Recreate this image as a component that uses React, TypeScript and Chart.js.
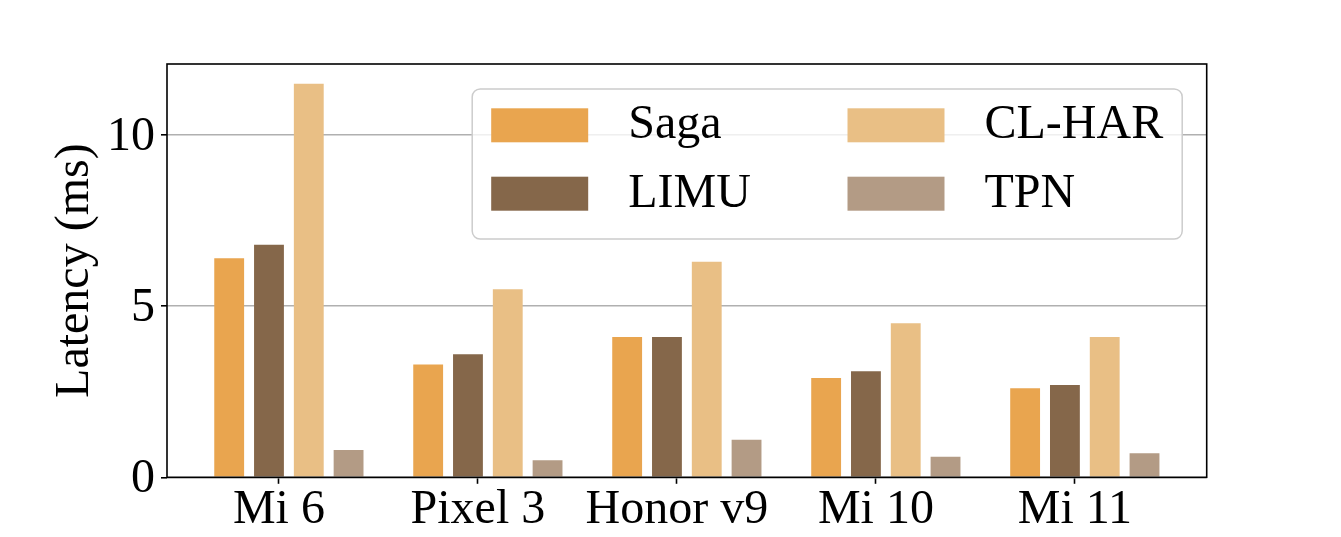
import { useEffect, useRef } from "react";
import { Chart, registerables } from "chart.js";

Chart.register(...registerables);

const DEVICES = ["Mi 6", "Pixel 3", "Honor v9", "Mi 10", "Mi 11"];
const SAGA = [6.4, 3.3, 4.1, 2.9, 2.6];
const LIMU = [6.8, 3.6, 4.1, 3.1, 2.7];
const CL_HAR = [11.5, 5.5, 6.3, 4.5, 4.1];
const TPN = [0.8, 0.5, 1.1, 0.6, 0.7];
const Y_TICKS = [0, 5, 10];

const FONT = "'Liberation Serif', 'Times New Roman', serif";

// label, values, colour, offset from the device tick (in category units)
const SERIES = [
  { label: "Saga", values: SAGA, color: "#e9a54f", shift: -0.25 },
  { label: "LIMU", values: LIMU, color: "#85674a", shift: -0.05 },
  { label: "CL-HAR", values: CL_HAR, color: "#e9bf85", shift: 0.15 },
  { label: "TPN", values: TPN, color: "#b39b85", shift: 0.35 },
];

const framePlugin = {
  id: "frame",
  afterDatasetsDraw(chart: any) {
    const { ctx, chartArea: a } = chart;
    ctx.save();
    ctx.strokeStyle = "#000";
    ctx.lineWidth = 1.6;
    ctx.strokeRect(a.left, a.top, a.right - a.left, a.bottom - a.top);
    ctx.restore();
  },
};

const legendPlugin = {
  id: "insideLegend",
  afterDraw(chart: any) {
    const { ctx, chartArea: a } = chart;
    const w = 710;
    const h = 150;
    const x = a.right - 24.5 - w;
    const y = a.top + 25;
    ctx.save();
    ctx.beginPath();
    ctx.roundRect(x, y, w, h, 8);
    ctx.fillStyle = "rgba(255,255,255,0.8)";
    ctx.fill();
    ctx.strokeStyle = "#cccccc";
    ctx.lineWidth = 1.5;
    ctx.stroke();
    ctx.font = `48px ${FONT}`;
    ctx.textBaseline = "middle";
    ctx.textAlign = "left";
    chart.data.datasets.forEach((ds: any, i: number) => {
      const col = Math.floor(i / 2);
      const row = i % 2;
      const px = x + 19 + col * 356.3;
      const py = y + 19.3 + row * 68.4;
      ctx.fillStyle = ds.backgroundColor;
      ctx.fillRect(px, py, 97, 34);
      ctx.fillStyle = "#000";
      ctx.fillText(ds.label, px + 137, py + 17.5);
    });
    ctx.restore();
  },
};

export default function App() {
  const canvasRef = useRef<HTMLCanvasElement | null>(null);

  useEffect(() => {
    if (!canvasRef.current) return;

    const chart = new Chart(canvasRef.current, {
      type: "bar",
      data: {
        datasets: SERIES.map((s) => ({
          label: s.label,
          data: s.values.map((v, i) => ({ x: i + s.shift, y: v })),
          backgroundColor: s.color,
          borderWidth: 0,
          grouped: false,
          categoryPercentage: 1,
          barPercentage: 0.75,
        })),
      },
      options: {
        animation: false,
        responsive: true,
        maintainAspectRatio: false,
        layout: { padding: { left: 0, top: 64, right: 134.3, bottom: 0 } },
        plugins: {
          legend: { display: false },
          tooltip: { enabled: false },
        },
        scales: {
          x: {
            type: "linear",
            min: -0.5625,
            max: 4.6625,
            offset: false,
            afterBuildTicks: (scale: any) => {
              scale.ticks = DEVICES.map((_, i) => ({ value: i }));
            },
            afterFit: (scale: any) => {
              scale.height = 59.7;
            },
            grid: {
              offset: false,
              drawOnChartArea: false,
              drawTicks: true,
              tickLength: 6.5,
              tickColor: "#000",
              tickWidth: 1.6,
            },
            border: { display: false },
            ticks: {
              autoSkip: false,
              maxRotation: 0,
              padding: -2,
              color: "#000",
              font: { family: FONT, size: 48 },
              callback: (v: any) => DEVICES[Math.round(Number(v))] ?? "",
            },
          },
          y: {
            min: 0,
            max: 12.08,
            afterBuildTicks: (scale: any) => {
              scale.ticks = Y_TICKS.map((v) => ({ value: v }));
            },
            afterFit: (scale: any) => {
              scale.width = 167;
            },
            grid: {
              color: "#b0b0b0",
              lineWidth: 1.6,
              drawTicks: true,
              tickLength: 6,
              tickColor: "#000",
              tickWidth: 1.6,
            },
            border: { display: false },
            ticks: {
              padding: 6,
              labelOffset: 2,
              color: "#000",
              font: { family: FONT, size: 48 },
            },
            title: {
              display: true,
              text: "Latency (ms)",
              color: "#000",
              font: { family: FONT, size: 48, lineHeight: 1 },
              padding: { top: 51, bottom: 0 },
            },
          },
        },
      },
      plugins: [framePlugin, legendPlugin],
    });

    return () => {
      chart.destroy();
    };
  }, []);

  return (
    <div
      style={{
        position: "fixed",
        left: 0,
        top: 0,
        width: 1341,
        height: 537,
        background: "#fff",
      }}
    >
      <canvas ref={canvasRef} />
    </div>
  );
}
